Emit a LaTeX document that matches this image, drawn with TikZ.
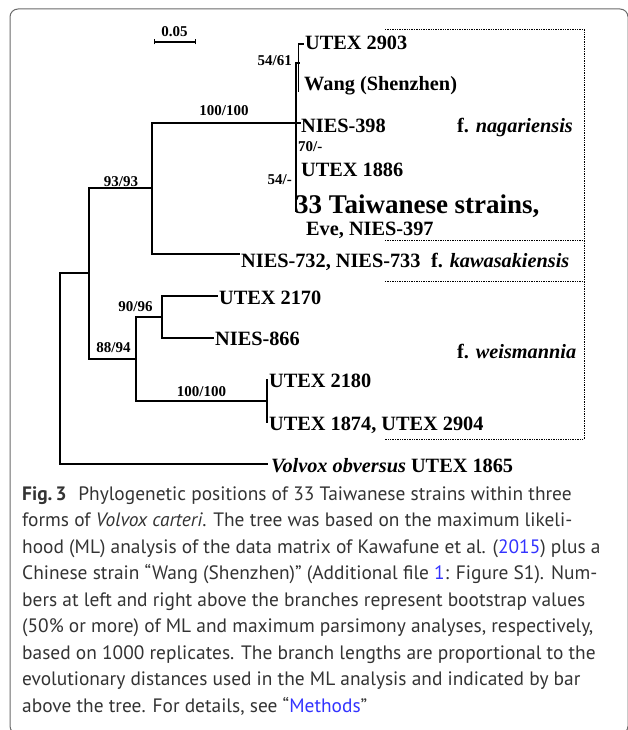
\documentclass[tikz,border=0pt]{standalone}
\usepackage{fontspec}
\setmainfont{Liberation Serif}
\newfontfamily\capfont{PT Sans}
\definecolor{captxt}{HTML}{333333}
\definecolor{linkblue}{HTML}{3333FF}
\definecolor{framegray}{HTML}{6A6A6A}
\begin{document}
\begin{tikzpicture}[x=1pt,y=-1pt,
  branch/.style={line width=2pt,line cap=rect,line join=miter},
  thinbr/.style={line width=1.6pt,line cap=rect},
  grp/.style={line width=0.9pt,dash pattern=on 1.4pt off 1pt},
  tip/.style={anchor=base west,inner sep=0pt,font=\fontsize{20.3}{24}\selectfont\bfseries},
  bigtip/.style={anchor=base west,inner sep=0pt,font=\fontsize{27}{30}\selectfont\bfseries},
  bs/.style={inner sep=0pt,font=\fontsize{15}{18}\selectfont\bfseries},
  capline/.style={anchor=base west,inner sep=0pt,text=captxt,font=\capfont\fontsize{19.4}{22}\selectfont}]
\useasboundingbox (0,0) rectangle (627,730);
\draw[framegray,line width=1pt,rounded corners=8pt] (10,9) rectangle (628,734);

% scale bar
\coordinate (sbl) at (154,42);
\coordinate (sbr) at (195,42);
\draw[line width=1.6pt] (sbl) -- (sbr);
\draw[line width=1pt] ([yshift=-2.5pt]sbl) -- ([yshift=2.5pt]sbl);
\draw[line width=1pt] ([yshift=-2.5pt]sbr) -- ([yshift=2.5pt]sbr);
\node[bs,anchor=base] (sbt) at (174.5,36.5) {0.05};

% internal nodes
\coordinate (A) at (60,368);
\coordinate (B) at (89,273);
\coordinate (C) at (152,188);
\coordinate (D) at (136,359);
\coordinate (E) at (296,123);
\coordinate (F) at (298.5,63);
\coordinate (G) at (162,317);
\coordinate (H) at (267,401);
% branch ends
\coordinate (out) at (267,464);
\coordinate (kaw) at (239,254);
\coordinate (u2170) at (217,296);
\coordinate (n866) at (213,338);
\coordinate (u2180) at (267,380);
\coordinate (u1874) at (267,422);
\coordinate (u2903) at (303,44);
\coordinate (wang) at (298.5,91);
\coordinate (n398) at (299.5,123);
\coordinate (tw) at (296,211);

% branches
\draw[branch] (B) -- (A |- B) -- (A |- out) -- (out);
\draw[branch] (C) -- (B |- C) -- (B |- D) -- (D);
\draw[branch] (E) -- (C |- E) -- (C |- kaw) -- (kaw);
\draw[branch] (F) -- (E |- F) -- (tw);
\draw[branch] (E) -- (n398);
\draw[thinbr] (u2903) -- (F |- u2903) -- (wang);
\draw[branch] (G) -- (D |- G) -- (D |- H) -- (H);
\draw[branch] (u2170) -- (G |- u2170) -- (G |- n866) -- (n866);
\draw[branch] (u2180) -- (u1874);

% tip labels
\node[tip] (l2903) at (305,50) {UTEX 2903};
\node[tip] (lwang) at (304,91) {Wang (Shenzhen)};
\node[tip] (l398) at (301,133) {NIES-398};
\node[tip] (l1886) at (301,177) {UTEX 1886};
\node[bigtip] (ltw) at (295,213) {33 Taiwanese strains,};
\node[tip] (leve) at (306,235) {Eve, NIES-397};
\node[tip] (lkaw) at (241,267) {NIES-732, NIES-733};
\node[tip] (l2170) at (219,304) {UTEX 2170};
\node[tip] (l866) at (215,345) {NIES-866};
\node[tip] (l2180) at (269,387) {UTEX 2180};
\node[tip] (l1874) at (269,430) {UTEX 1874, UTEX 2904};
\node[tip] (lout) at (271,472) {\textit{Volvox obversus} UTEX 1865};

% forms
\node[tip] (fnag) at (457,133) {f. \textit{nagariensis}};
\node[tip] (fkaw) at (431,267) {f. \textit{kawasakiensis}};
\node[tip] (fwei) at (457,358) {f. \textit{weismannia}};
\draw[grp] (385,29) -- (584,29) -- (584,439) -- (385,439);
\draw[grp] (385,240) -- (584,240);
\draw[grp] (385,281) -- (584,281);

% bootstrap values
\node[bs,anchor=base] (b9393) at (121,186) {93/93};
\node[bs,anchor=base] (b100a) at (224,116) {100/100};
\node[bs,anchor=base east] (b5461) at (292,66) {54/61};
\node[bs,anchor=base west] (b70) at (298,152) {70/-};
\node[bs,anchor=base east] (b54) at (292,184) {54/-};
\node[bs,anchor=base] (b9096) at (135.5,311) {90/96};
\node[bs,anchor=base] (b8894) at (113.5,352) {88/94};
\node[bs,anchor=base] (b100b) at (201.5,396) {100/100};

% caption
\node[capline] (c1) at (22,500) {{\bfseries Fig.\,3}\hspace{0.6em}Phylogenetic positions of 33 Taiwanese strains within three};
\node[capline] (c2) at (22,526.5) {forms of \textit{Volvox carteri}. The tree was based on the maximum likeli-};
\node[capline] (c3) at (22,553) {hood (ML) analysis of the data matrix of Kawafune et al. (\textcolor{linkblue}{2015}) plus a};
\node[capline] (c4) at (22,579.5) {Chinese strain “Wang (Shenzhen)” (Additional file \textcolor{linkblue}{1}: Figure S1). Num-};
\node[capline] (c5) at (22,606) {bers at left and right above the branches represent bootstrap values};
\node[capline] (c6) at (22,632.5) {(50\% or more) of ML and maximum parsimony analyses, respectively,};
\node[capline] (c7) at (22,659) {based on 1000 replicates. The branch lengths are proportional to the};
\node[capline] (c8) at (22,685.5) {evolutionary distances used in the ML analysis and indicated by bar};
\node[capline] (c9) at (22,712) {above the tree. For details, see “\textcolor{linkblue}{Methods}”};
\end{tikzpicture}
\end{document}
